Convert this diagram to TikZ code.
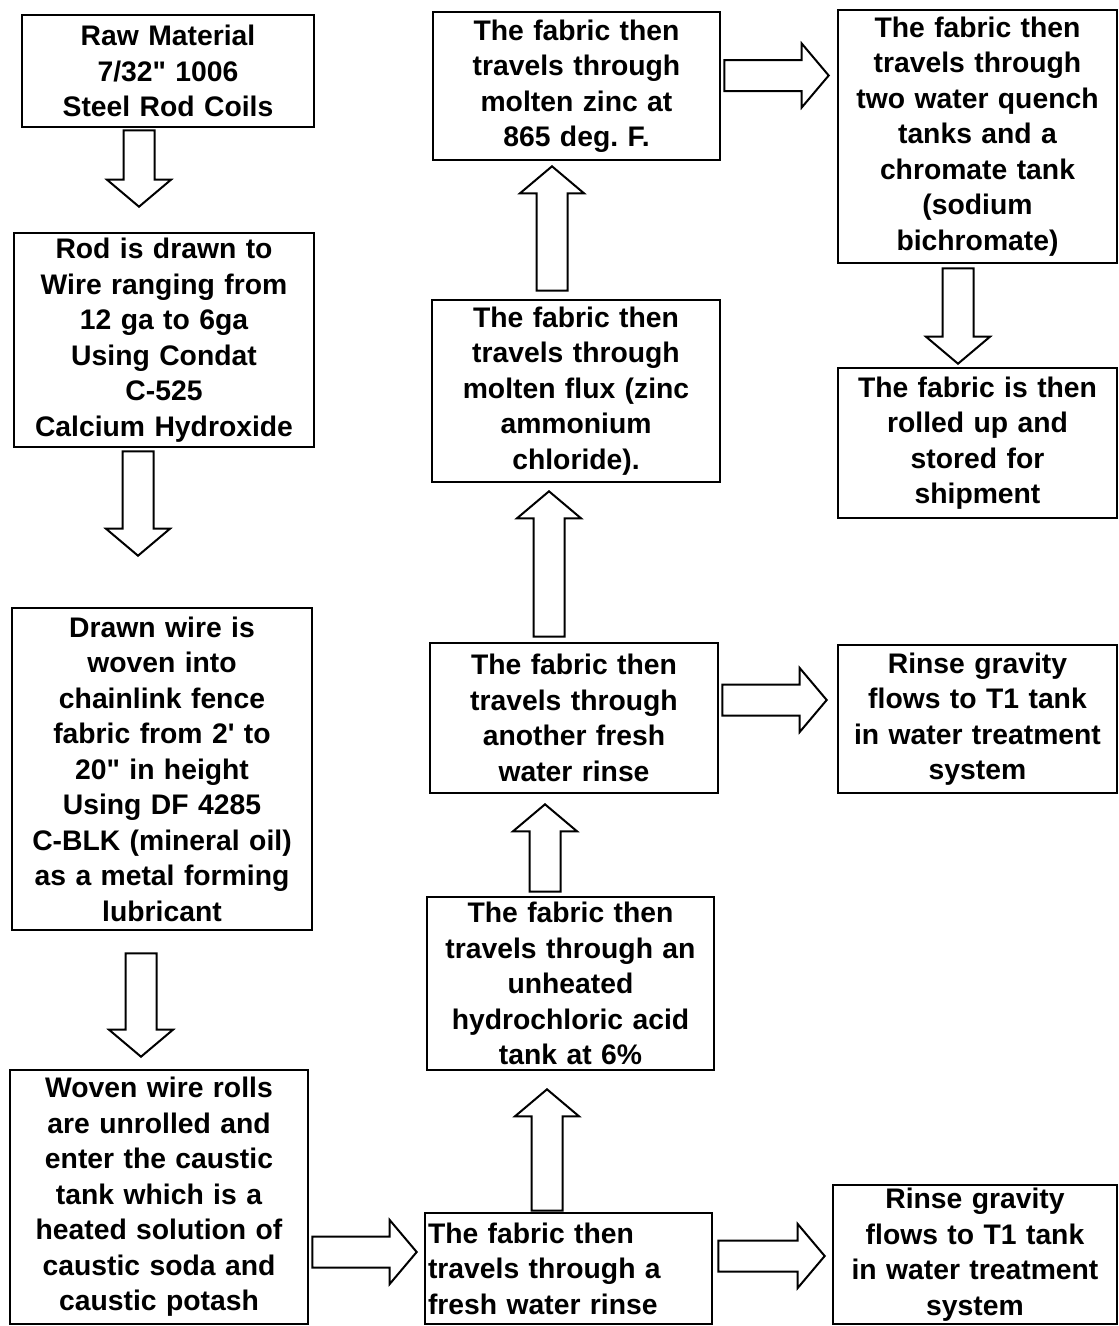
\documentclass[tikz,border=0pt]{standalone}
\usepackage{fontspec}
\newfontfamily\lsans{Liberation Sans}
\usetikzlibrary{calc}
\tikzset{
  box/.style={draw, line width=2.6pt, inner sep=0pt, align=center,
    font=\lsans\bfseries\frenchspacing\fontsize{28.3}{35.5}\selectfont},
  blk/.style={draw, line width=2pt, fill=white, line join=miter}
}
\newcommand\BlkArr[2]{%
  \draw[blk] let \p1=(#1), \p2=(#2),
     \n1={atan2(\y2-\y1,\x2-\x1)},
     \n2={veclen(\x2-\x1,\y2-\y1)-27pt}
   in [shift={(\p1)}, rotate=\n1]
     (0pt,-15.5pt) -- (\n2,-15.5pt) -- (\n2,-32pt) -- ({\n2+27pt},0pt)
     -- (\n2,32pt) -- (\n2,15.5pt) -- (0pt,15.5pt) -- cycle;}
\begin{document}
\begin{tikzpicture}[x=1pt,y=-1pt]
\useasboundingbox[fill=white] (0,0) rectangle (1119,1326);
% left column
\node[box, minimum width=292pt, minimum height=112pt, text width=286pt] (b1) at (168,71)
  {Raw Material\\7/32" 1006\\Steel Rod Coils};
\node[box, minimum width=300pt, minimum height=214pt, text width=294pt] (b2) at (164,340)
  {Rod is drawn to\\Wire ranging from\\12 ga to 6ga\\Using Condat\\C-525\\Calcium Hydroxide};
\node[box, minimum width=300pt, minimum height=322pt, text width=294pt] (b3) at (162,769)
  {Drawn wire is\\woven into\\chainlink fence\\fabric from 2' to\\20" in height\\Using DF 4285\\C-BLK (mineral oil)\\as a metal forming\\lubricant};
\node[box, minimum width=298pt, minimum height=254pt, text width=292pt] (b4) at (159,1197)
  {Woven wire rolls\\are unrolled and\\enter the caustic\\tank which is a\\heated solution of\\caustic soda and\\caustic potash};
% middle column
\node[box, align=left, minimum width=287pt, minimum height=111pt, text width=281pt] (b5) at (568.5,1268.5)
  {The fabric then\\travels through a\\fresh water rinse};
\node[box, minimum width=287pt, minimum height=173pt, text width=281pt] (b6) at (570.5,983.5)
  {The fabric then\\travels through an\\unheated\\hydrochloric acid\\tank at 6\%};
\node[box, minimum width=288pt, minimum height=150pt, text width=282pt] (b7) at (574,718)
  {The fabric then\\travels through\\another fresh\\water rinse};
\node[box, minimum width=288pt, minimum height=182pt, text width=282pt] (b8) at (576,391)
  {The fabric then\\travels through\\molten flux (zinc\\ammonium\\chloride).};
\node[box, minimum width=287pt, minimum height=148pt, text width=281pt] (b9) at (576.5,86)
  {The fabric then\\travels through\\molten zinc at\\865 deg. F.};
% right column
\node[box, minimum width=279pt, minimum height=253pt, text width=273pt] (b10) at (977.5,136.5)
  {The fabric then\\travels through\\two water quench\\tanks and a\\chromate tank\\(sodium\\bichromate)};
\node[box, minimum width=279pt, minimum height=150pt, text width=273pt] (b11) at (977.5,443)
  {The fabric is then\\rolled up and\\stored for\\shipment};
\node[box, minimum width=279pt, minimum height=148pt, text width=273pt] (b12) at (977.5,719)
  {Rinse gravity\\flows to T1 tank\\in water treatment\\system};
\node[box, minimum width=284pt, minimum height=139pt, text width=278pt] (b13) at (975,1254.5)
  {Rinse gravity\\flows to T1 tank\\in water treatment\\system};
% block arrows
\BlkArr{$(b1.south)+(-29,2)$}{$(b2.north)+(-25,-25)$}
\BlkArr{$(b2.south)+(-26,3)$}{$(b3.north)+(-24,-51)$}
\BlkArr{$(b3.south)+(-21,22)$}{$(b4.north)+(-18,-12)$}
\BlkArr{$(b4.east)+(3,55)$}{$(b5.west)+(-7,-16.5)$}
\BlkArr{$(b5.east)+(5,-12.5)$}{$(b13.west)+(-7,1.5)$}
\BlkArr{$(b5.north)+(-21.5,-1)$}{$(b6.south)+(-23.5,18)$}
\BlkArr{$(b6.north)+(-25.5,-4)$}{$(b7.south)+(-29,10)$}
\BlkArr{$(b7.north)+(-25,-5)$}{$(b8.south)+(-27,8)$}
\BlkArr{$(b8.north)+(-24,-8)$}{$(b9.south)+(-24.5,5)$}
\BlkArr{$(b9.east)+(3,-10.5)$}{$(b10.west)+(-8,-61)$}
\BlkArr{$(b10.south)+(-19.5,4)$}{$(b11.north)+(-19.5,-3)$}
\BlkArr{$(b7.east)+(3,-18)$}{$(b12.west)+(-10,-19)$}
\end{tikzpicture}
\end{document}
